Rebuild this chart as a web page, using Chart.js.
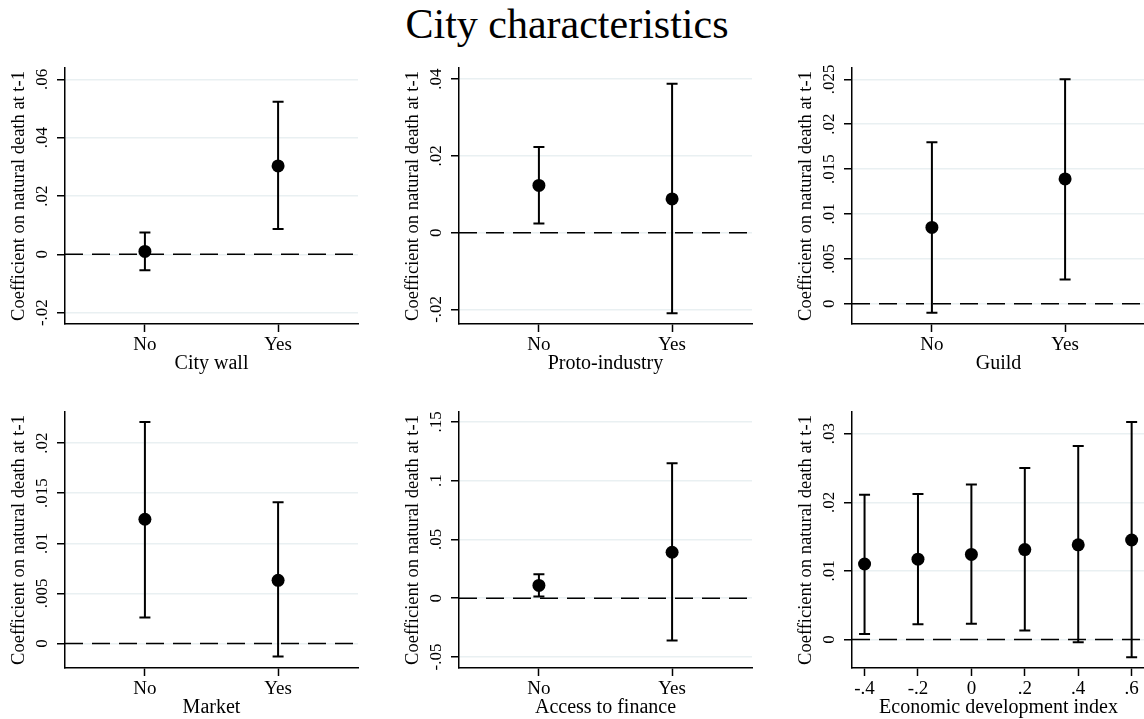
<!DOCTYPE html>
<html>
<head>
<meta charset="utf-8">
<script src="https://cdn.jsdelivr.net/npm/chart.js@4"></script>
<style>
  html, body { margin: 0; padding: 0; background: #fff; overflow: hidden; width: 1144px; height: 719px; }
  #title { position: absolute; left: -5px; top: 0; width: 1144px; text-align: center;
           font-family: "Liberation Serif", serif; font-size: 42px; line-height: 48px; color: #000; }
  canvas { position: absolute; }
</style>
</head>
<body>
<div id="title">City characteristics</div>
<canvas id="wall" width="394" height="340" style="left:0px;top:40px"></canvas>
<canvas id="proto" width="394" height="340" style="left:394px;top:40px"></canvas>
<canvas id="guild" width="394" height="340" style="left:787px;top:40px"></canvas>
<canvas id="market" width="394" height="340" style="left:0px;top:384px"></canvas>
<canvas id="finance" width="394" height="340" style="left:394px;top:384px"></canvas>
<canvas id="econ" width="394" height="340" style="left:787px;top:384px"></canvas>
<script>
// Categories
const yesNo = ['No', 'Yes'];
const econIndex = [-0.4, -0.2, 0, 0.2, 0.4, 0.6];

// Coefficients and 95% bounds
const wallCoef = [0.0010, 0.0303];
const wallLow = [-0.0055, 0.0087];
const wallHigh = [0.0075, 0.0523];

const protoCoef = [0.0123, 0.0088];
const protoLow = [0.0024, -0.0210];
const protoHigh = [0.0223, 0.0388];

const guildCoef = [0.0085, 0.0139];
const guildLow = [-0.0010, 0.0027];
const guildHigh = [0.0180, 0.0250];

const marketCoef = [0.0124, 0.0063];
const marketLow = [0.0026, -0.0013];
const marketHigh = [0.0221, 0.0141];

const financeCoef = [0.0109, 0.0391];
const financeLow = [0.0015, -0.0359];
const financeHigh = [0.0205, 0.1148];

const econCoef = [0.0110, 0.0117, 0.0124, 0.0131, 0.0138, 0.0145];
const econLow = [0.0008, 0.0022, 0.0023, 0.0013, -0.0004, -0.0026];
const econHigh = [0.0211, 0.0212, 0.0226, 0.0250, 0.0282, 0.0317];

// Tick values
const wallTicks = [-0.02, 0, 0.02, 0.04, 0.06];
const protoTicks = [-0.02, 0, 0.02, 0.04];
const guildTicks = [0, 0.005, 0.01, 0.015, 0.02, 0.025];
const marketTicks = [0, 0.005, 0.01, 0.015, 0.02];
const financeTicks = [-0.05, 0, 0.05, 0.1, 0.15];
const econYTicks = [0, 0.01, 0.02, 0.03];
const econXTicks = [-0.4, -0.2, 0, 0.2, 0.4, 0.6];

const yTitle = 'Coefficient on natural death at t-1';
const serif = '"Liberation Serif", "Times New Roman", serif';
Chart.defaults.font.family = serif;
Chart.defaults.color = '#000';

// Stata style numbers: .02, -.02, 0
function fmt(v) {
  return String(Number(v.toPrecision(6))).replace(/^(-?)0\./, '$1.');
}

// padding so the rotated y labels sit centred at the same spot
function tickPad(ticks) {
  const c = document.createElement('canvas').getContext('2d');
  c.font = '17px ' + serif;
  const w = Math.max(...ticks.map(v => c.measureText(fmt(v)).width));
  return 14 - w / 2;
}

// dashed zero line + error bars
const errorBars = {
  id: 'errorBars',
  beforeDatasetsDraw(chart) {
    const { ctx, chartArea, scales: { x, y } } = chart;
    const ds = chart.data.datasets[0];
    ctx.save();
    const y0 = y.getPixelForValue(0);
    ctx.strokeStyle = '#000';
    ctx.lineWidth = 1.5;
    ctx.setLineDash([18, 9]);
    ctx.beginPath();
    ctx.moveTo(chartArea.left, y0);
    ctx.lineTo(chartArea.right, y0);
    ctx.stroke();
    ctx.setLineDash([]);
    ctx.lineWidth = 2;
    ds.data.forEach((p, i) => {
      const px = x.getPixelForValue(p.x);
      const lo = y.getPixelForValue(ds.errLow[i]);
      const hi = y.getPixelForValue(ds.errHigh[i]);
      ctx.beginPath();
      ctx.moveTo(px, lo); ctx.lineTo(px, hi);
      ctx.moveTo(px - 5.5, lo); ctx.lineTo(px + 5.5, lo);
      ctx.moveTo(px - 5.5, hi); ctx.lineTo(px + 5.5, hi);
      ctx.stroke();
    });
    ctx.restore();
  }
};

function makePanel(id, p) {
  const xs = p.xVals;
  new Chart(document.getElementById(id), {
    type: 'scatter',
    data: {
      datasets: [{
        data: xs.map((xv, i) => ({ x: xv, y: p.coef[i] })),
        errLow: p.low,
        errHigh: p.high,
        pointRadius: 6.5,
        pointHoverRadius: 6.5,
        backgroundColor: '#000',
        borderWidth: 0
      }]
    },
    options: {
      responsive: false,
      animation: false,
      events: [],
      layout: { padding: { top: 28, right: 36, left: 0, bottom: 0 } },
      plugins: { legend: { display: false }, tooltip: { enabled: false } },
      scales: {
        x: {
          type: 'linear',
          min: p.xMin,
          max: p.xMax,
          afterBuildTicks: s => { s.ticks = p.xTicks.map(v => ({ value: v })); },
          afterFit: s => { s.height = 56; },
          ticks: {
            callback: p.xLabel,
            font: { size: 19 },
            color: '#000',
            padding: 2,
            maxRotation: 0,
            autoSkip: false
          },
          grid: { drawOnChartArea: false, tickLength: 8, tickColor: '#000', tickWidth: 1.5 },
          border: { color: '#000', width: 1.5 },
          title: { display: true, text: p.xTitle, font: { size: 20 }, color: '#000', padding: { top: 0, bottom: 4 } }
        },
        y: {
          min: p.yMin,
          max: p.yMax,
          afterBuildTicks: s => { s.ticks = p.yTicks.map(v => ({ value: v })); },
          afterFit: s => { s.width = 65; },
          ticks: {
            callback: v => fmt(v),
            font: { size: 17 },
            color: '#000',
            minRotation: 90,
            maxRotation: 90,
            crossAlign: 'center',
            padding: tickPad(p.yTicks)
          },
          grid: { color: '#e9f0f2', lineWidth: 1.5, tickLength: 8, tickColor: '#000', tickWidth: 1.5 },
          border: { color: '#000', width: 1.5 },
          title: { display: true, text: yTitle, font: { size: 18.5 }, color: '#000', padding: { top: 8, bottom: 0 } }
        }
      }
    },
    plugins: [errorBars]
  });
}

const catIdx = yesNo.map((c, i) => i);
const catLabel = v => yesNo[v];

makePanel('wall', { xVals: catIdx, xTicks: catIdx, xLabel: catLabel, xMin: -0.6, xMax: 1.6, xTitle: 'City wall',
  coef: wallCoef, low: wallLow, high: wallHigh, yTicks: wallTicks, yMin: -0.0239, yMax: 0.0639 });
makePanel('proto', { xVals: catIdx, xTicks: catIdx, xLabel: catLabel, xMin: -0.6, xMax: 1.6, xTitle: 'Proto-industry',
  coef: protoCoef, low: protoLow, high: protoHigh, yTicks: protoTicks, yMin: -0.0238, yMax: 0.0429 });
makePanel('guild', { xVals: catIdx, xTicks: catIdx, xLabel: catLabel, xMin: -0.6, xMax: 1.6, xTitle: 'Guild',
  coef: guildCoef, low: guildLow, high: guildHigh, yTicks: guildTicks, yMin: -0.00226, yMax: 0.02626 });
makePanel('market', { xVals: catIdx, xTicks: catIdx, xLabel: catLabel, xMin: -0.6, xMax: 1.6, xTitle: 'Market',
  coef: marketCoef, low: marketLow, high: marketHigh, yTicks: marketTicks, yMin: -0.00245, yMax: 0.02311 });
makePanel('finance', { xVals: catIdx, xTicks: catIdx, xLabel: catLabel, xMin: -0.6, xMax: 1.6, xTitle: 'Access to finance',
  coef: financeCoef, low: financeLow, high: financeHigh, yTicks: financeTicks, yMin: -0.0594, yMax: 0.1585 });
makePanel('econ', { xVals: econIndex, xTicks: econXTicks, xLabel: v => fmt(v), xMin: -0.447, xMax: 0.65, xTitle: 'Economic development index',
  coef: econCoef, low: econLow, high: econHigh, yTicks: econYTicks, yMin: -0.00416, yMax: 0.03316 });
</script>
</body>
</html>
